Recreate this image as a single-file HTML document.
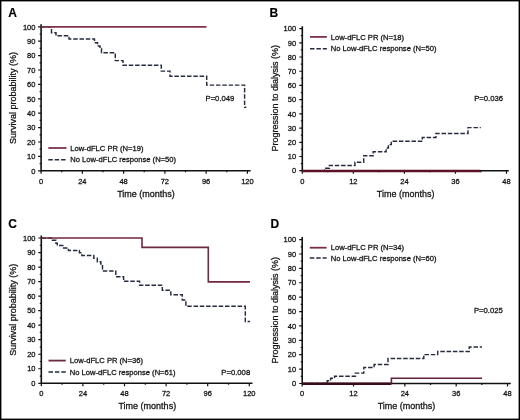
<!DOCTYPE html>
<html><head><meta charset="utf-8"><style>
html,body{margin:0;padding:0;background:#fff;}
body{width:520px;height:420px;overflow:hidden;}
svg{display:block;will-change:transform;font-family:"Liberation Sans",sans-serif;}
text{stroke:#141414;stroke-width:0.28px;}
</style></head><body>
<svg width="520" height="420" viewBox="0 0 520 420">
<rect x="0" y="0" width="520" height="420" fill="#fff"/>
<text x="8.2" y="16.8" font-size="12" font-weight="bold" fill="#000" style="stroke:#000;stroke-width:0.15px">A</text>
<path d="M41.1 24.3V170.8H250.7" stroke="#111" stroke-width="1.6" fill="none"/>
<path d="M38.1 170.8H41.1M38.1 156.4H41.1M38.1 142H41.1M38.1 127.6H41.1M38.1 113.2H41.1M38.1 98.8H41.1M38.1 84.4H41.1M38.1 70H41.1M38.1 55.6H41.1M38.1 41.2H41.1M38.1 26.8H41.1M39.6 163.6H41.1M39.6 149.2H41.1M39.6 134.8H41.1M39.6 120.4H41.1M39.6 106H41.1M39.6 91.6H41.1M39.6 77.2H41.1M39.6 62.8H41.1M39.6 48.4H41.1M39.6 34H41.1M41.1 170.8V173.8M82.36 170.8V173.8M123.62 170.8V173.8M164.88 170.8V173.8M206.14 170.8V173.8M247.4 170.8V173.8M61.73 170.8V172.3M102.99 170.8V172.3M144.25 170.8V172.3M185.51 170.8V172.3M226.77 170.8V172.3" stroke="#111" stroke-width="1.2" fill="none"/>
<text x="35.4" y="173.5" font-size="7.5" text-anchor="end" fill="#141414">0</text>
<text x="35.4" y="159.1" font-size="7.5" text-anchor="end" fill="#141414">10</text>
<text x="35.4" y="144.7" font-size="7.5" text-anchor="end" fill="#141414">20</text>
<text x="35.4" y="130.3" font-size="7.5" text-anchor="end" fill="#141414">30</text>
<text x="35.4" y="115.9" font-size="7.5" text-anchor="end" fill="#141414">40</text>
<text x="35.4" y="101.5" font-size="7.5" text-anchor="end" fill="#141414">50</text>
<text x="35.4" y="87.1" font-size="7.5" text-anchor="end" fill="#141414">60</text>
<text x="35.4" y="72.7" font-size="7.5" text-anchor="end" fill="#141414">70</text>
<text x="35.4" y="58.3" font-size="7.5" text-anchor="end" fill="#141414">80</text>
<text x="35.4" y="43.9" font-size="7.5" text-anchor="end" fill="#141414">90</text>
<text x="35.4" y="29.5" font-size="7.5" text-anchor="end" fill="#141414">100</text>
<text x="41.1" y="183.6" font-size="7.5" text-anchor="middle" fill="#141414">0</text>
<text x="82.36" y="183.6" font-size="7.5" text-anchor="middle" fill="#141414">24</text>
<text x="123.62" y="183.6" font-size="7.5" text-anchor="middle" fill="#141414">48</text>
<text x="164.88" y="183.6" font-size="7.5" text-anchor="middle" fill="#141414">72</text>
<text x="206.14" y="183.6" font-size="7.5" text-anchor="middle" fill="#141414">96</text>
<text x="247.4" y="183.6" font-size="7.5" text-anchor="middle" fill="#141414">120</text>
<text x="146" y="196.6" font-size="9" text-anchor="middle" fill="#141414">Time (months)</text>
<text transform="translate(16.3 98) rotate(-90)" font-size="9" text-anchor="middle" fill="#141414">Survival probability (%)</text>
<path d="M48.3 148H66.5" stroke="#80304a" stroke-width="1.8"/>
<path d="M48.3 159.8H66.5" stroke="#262c40" stroke-width="1.45" stroke-dasharray="4.5 1.9"/>
<text x="70.3" y="150.6" font-size="7.6" fill="#141414">Low-dFLC PR (N=19)</text>
<text x="70.3" y="162.4" font-size="7.6" fill="#141414">No Low-dFLC response (N=50)</text>
<text x="205.5" y="100.7" font-size="7.7" fill="#141414">P=0.049</text>
<path d="M41.1 26.9H51.5V32.7H56V35.8H69V38.9H94.5V42.7H97.5V46H100V48.5H101.5V52.8H115.3V60.6H123V65.2H161.3V71.1H170V76.3H206.7V85.1H244.6V107.3H246.3" stroke="#262c40" stroke-width="1.45" fill="none" stroke-dasharray="4.5 1.8"/>
<path d="M41.1 26.9H206.5" stroke="#80304a" stroke-width="1.6" fill="none"/>
<text x="269.4" y="16.9" font-size="12" font-weight="bold" fill="#000" style="stroke:#000;stroke-width:0.15px">B</text>
<path d="M302.3 26.3V170.7H508.8" stroke="#111" stroke-width="1.6" fill="none"/>
<path d="M299.3 170.7H302.3M299.3 156.49H302.3M299.3 142.28H302.3M299.3 128.07H302.3M299.3 113.86H302.3M299.3 99.65H302.3M299.3 85.44H302.3M299.3 71.23H302.3M299.3 57.02H302.3M299.3 42.81H302.3M299.3 28.6H302.3M300.8 163.59H302.3M300.8 149.38H302.3M300.8 135.17H302.3M300.8 120.96H302.3M300.8 106.75H302.3M300.8 92.54H302.3M300.8 78.33H302.3M300.8 64.12H302.3M300.8 49.91H302.3M300.8 35.7H302.3M302.3 170.7V173.7M353.35 170.7V173.7M404.4 170.7V173.7M455.45 170.7V173.7M506.5 170.7V173.7M327.82 170.7V172.2M378.88 170.7V172.2M429.93 170.7V172.2M480.98 170.7V172.2" stroke="#111" stroke-width="1.2" fill="none"/>
<text x="296.1" y="173.4" font-size="7.5" text-anchor="end" fill="#141414">0</text>
<text x="296.1" y="159.19" font-size="7.5" text-anchor="end" fill="#141414">10</text>
<text x="296.1" y="144.98" font-size="7.5" text-anchor="end" fill="#141414">20</text>
<text x="296.1" y="130.77" font-size="7.5" text-anchor="end" fill="#141414">30</text>
<text x="296.1" y="116.56" font-size="7.5" text-anchor="end" fill="#141414">40</text>
<text x="296.1" y="102.35" font-size="7.5" text-anchor="end" fill="#141414">50</text>
<text x="296.1" y="88.14" font-size="7.5" text-anchor="end" fill="#141414">60</text>
<text x="296.1" y="73.93" font-size="7.5" text-anchor="end" fill="#141414">70</text>
<text x="296.1" y="59.72" font-size="7.5" text-anchor="end" fill="#141414">80</text>
<text x="296.1" y="45.51" font-size="7.5" text-anchor="end" fill="#141414">90</text>
<text x="296.1" y="31.3" font-size="7.5" text-anchor="end" fill="#141414">100</text>
<text x="302.3" y="183.5" font-size="7.5" text-anchor="middle" fill="#141414">0</text>
<text x="353.35" y="183.5" font-size="7.5" text-anchor="middle" fill="#141414">12</text>
<text x="404.4" y="183.5" font-size="7.5" text-anchor="middle" fill="#141414">24</text>
<text x="455.45" y="183.5" font-size="7.5" text-anchor="middle" fill="#141414">36</text>
<text x="506.5" y="183.5" font-size="7.5" text-anchor="middle" fill="#141414">48</text>
<text x="405.6" y="196.8" font-size="9" text-anchor="middle" fill="#141414">Time (months)</text>
<text transform="translate(277.7 98.2) rotate(-90)" font-size="9" text-anchor="middle" fill="#141414">Progression to dialysis (%)</text>
<path d="M310 36.9H326.9" stroke="#80304a" stroke-width="1.8"/>
<path d="M310 48.7H326.9" stroke="#262c40" stroke-width="1.45" stroke-dasharray="4.5 1.9"/>
<text x="330.7" y="39.5" font-size="7.6" fill="#141414">Low-dFLC PR (N=18)</text>
<text x="330.7" y="51.3" font-size="7.6" fill="#141414">No Low-dFLC response (N=50)</text>
<text x="474.2" y="100.9" font-size="7.7" fill="#141414">P=0.036</text>
<path d="M302.3 170.7H324.6V168.3H329.4V165.4H354.9V162.2H363.7V155.7H373.2V151.8H386.1V148H388.4V144.6H391.3V141.3H422.3V137.5H435.9V133.5H468V127.6H480.8" stroke="#262c40" stroke-width="1.45" fill="none" stroke-dasharray="4.5 1.8"/>
<path d="M302.3 170.9H480.6" stroke="#5c1226" stroke-width="2.5" fill="none"/>
<text x="8.2" y="227.6" font-size="12" font-weight="bold" fill="#000" style="stroke:#000;stroke-width:0.15px">C</text>
<path d="M41.3 235.5V383.3H252.5" stroke="#111" stroke-width="1.6" fill="none"/>
<path d="M38.3 383.3H41.3M38.3 368.77H41.3M38.3 354.24H41.3M38.3 339.71H41.3M38.3 325.18H41.3M38.3 310.65H41.3M38.3 296.12H41.3M38.3 281.59H41.3M38.3 267.06H41.3M38.3 252.53H41.3M38.3 238H41.3M39.8 376.04H41.3M39.8 361.5H41.3M39.8 346.98H41.3M39.8 332.44H41.3M39.8 317.92H41.3M39.8 303.38H41.3M39.8 288.86H41.3M39.8 274.33H41.3M39.8 259.79H41.3M39.8 245.26H41.3M41.3 383.3V386.3M82.9 383.3V386.3M124.5 383.3V386.3M166.1 383.3V386.3M207.7 383.3V386.3M249.3 383.3V386.3M62.1 383.3V384.8M103.7 383.3V384.8M145.3 383.3V384.8M186.9 383.3V384.8M228.5 383.3V384.8" stroke="#111" stroke-width="1.2" fill="none"/>
<text x="35.5" y="386" font-size="7.5" text-anchor="end" fill="#141414">0</text>
<text x="35.5" y="371.47" font-size="7.5" text-anchor="end" fill="#141414">10</text>
<text x="35.5" y="356.94" font-size="7.5" text-anchor="end" fill="#141414">20</text>
<text x="35.5" y="342.41" font-size="7.5" text-anchor="end" fill="#141414">30</text>
<text x="35.5" y="327.88" font-size="7.5" text-anchor="end" fill="#141414">40</text>
<text x="35.5" y="313.35" font-size="7.5" text-anchor="end" fill="#141414">50</text>
<text x="35.5" y="298.82" font-size="7.5" text-anchor="end" fill="#141414">60</text>
<text x="35.5" y="284.29" font-size="7.5" text-anchor="end" fill="#141414">70</text>
<text x="35.5" y="269.76" font-size="7.5" text-anchor="end" fill="#141414">80</text>
<text x="35.5" y="255.23" font-size="7.5" text-anchor="end" fill="#141414">90</text>
<text x="35.5" y="240.7" font-size="7.5" text-anchor="end" fill="#141414">100</text>
<text x="41.3" y="396.1" font-size="7.5" text-anchor="middle" fill="#141414">0</text>
<text x="82.9" y="396.1" font-size="7.5" text-anchor="middle" fill="#141414">24</text>
<text x="124.5" y="396.1" font-size="7.5" text-anchor="middle" fill="#141414">48</text>
<text x="166.1" y="396.1" font-size="7.5" text-anchor="middle" fill="#141414">72</text>
<text x="207.7" y="396.1" font-size="7.5" text-anchor="middle" fill="#141414">96</text>
<text x="249.3" y="396.1" font-size="7.5" text-anchor="middle" fill="#141414">120</text>
<text x="147.3" y="408.8" font-size="9" text-anchor="middle" fill="#141414">Time (months)</text>
<text transform="translate(16.3 309.8) rotate(-90)" font-size="9" text-anchor="middle" fill="#141414">Survival probability (%)</text>
<path d="M48.5 360.6H65.8" stroke="#70283f" stroke-width="1.8"/>
<path d="M48.5 372H65.8" stroke="#262c40" stroke-width="1.45" stroke-dasharray="4.5 1.9"/>
<text x="69.8" y="363.2" font-size="7.6" fill="#141414">Low-dFLC PR (N=36)</text>
<text x="69.8" y="374.6" font-size="7.6" fill="#141414">No Low-dFLC response (N=61)</text>
<text x="221.3" y="374.8" font-size="7.7" fill="#141414">P=0.008</text>
<path d="M41.3 238H51.5V240.2H55.9V243.3H57.3V245.5H63.6V247.9H68.4V250.5H79.4V252.7H81.8V255.5H93.8V258.3H97.3V261.7H100.8V264H102.5V271H115.8V276.7H123.6V281.3H139.6V285.3H162.3V290.3H170.8V294.8H182.3V300H185.9V306.3H245.3V321.5H250" stroke="#262c40" stroke-width="1.45" fill="none" stroke-dasharray="4.5 1.8"/>
<path d="M41.3 238H142V247.4H208.3V281.9H250" stroke="#70283f" stroke-width="1.6" fill="none"/>
<text x="270.5" y="227.8" font-size="12" font-weight="bold" fill="#000" style="stroke:#000;stroke-width:0.15px">D</text>
<path d="M302.2 237.1V383.5H510.8" stroke="#111" stroke-width="1.6" fill="none"/>
<path d="M299.2 383.5H302.2M299.2 369.11H302.2M299.2 354.72H302.2M299.2 340.33H302.2M299.2 325.94H302.2M299.2 311.55H302.2M299.2 297.16H302.2M299.2 282.77H302.2M299.2 268.38H302.2M299.2 253.99H302.2M299.2 239.6H302.2M300.7 376.31H302.2M300.7 361.92H302.2M300.7 347.52H302.2M300.7 333.13H302.2M300.7 318.75H302.2M300.7 304.36H302.2M300.7 289.97H302.2M300.7 275.57H302.2M300.7 261.19H302.2M300.7 246.79H302.2M302.2 383.5V386.5M353.52 383.5V386.5M404.85 383.5V386.5M456.17 383.5V386.5M507.5 383.5V386.5M327.86 383.5V385M379.19 383.5V385M430.51 383.5V385M481.84 383.5V385" stroke="#111" stroke-width="1.2" fill="none"/>
<text x="296.1" y="386.2" font-size="7.5" text-anchor="end" fill="#141414">0</text>
<text x="296.1" y="371.81" font-size="7.5" text-anchor="end" fill="#141414">10</text>
<text x="296.1" y="357.42" font-size="7.5" text-anchor="end" fill="#141414">20</text>
<text x="296.1" y="343.03" font-size="7.5" text-anchor="end" fill="#141414">30</text>
<text x="296.1" y="328.64" font-size="7.5" text-anchor="end" fill="#141414">40</text>
<text x="296.1" y="314.25" font-size="7.5" text-anchor="end" fill="#141414">50</text>
<text x="296.1" y="299.86" font-size="7.5" text-anchor="end" fill="#141414">60</text>
<text x="296.1" y="285.47" font-size="7.5" text-anchor="end" fill="#141414">70</text>
<text x="296.1" y="271.08" font-size="7.5" text-anchor="end" fill="#141414">80</text>
<text x="296.1" y="256.69" font-size="7.5" text-anchor="end" fill="#141414">90</text>
<text x="296.1" y="242.3" font-size="7.5" text-anchor="end" fill="#141414">100</text>
<text x="302.2" y="396.2" font-size="7.5" text-anchor="middle" fill="#141414">0</text>
<text x="353.52" y="396.2" font-size="7.5" text-anchor="middle" fill="#141414">12</text>
<text x="404.85" y="396.2" font-size="7.5" text-anchor="middle" fill="#141414">24</text>
<text x="456.17" y="396.2" font-size="7.5" text-anchor="middle" fill="#141414">36</text>
<text x="507.5" y="396.2" font-size="7.5" text-anchor="middle" fill="#141414">48</text>
<text x="406.5" y="408.8" font-size="9" text-anchor="middle" fill="#141414">Time (months)</text>
<text transform="translate(277.8 310.2) rotate(-90)" font-size="9" text-anchor="middle" fill="#141414">Progression to dialysis (%)</text>
<path d="M309.8 247.7H326.6" stroke="#7a2c46" stroke-width="1.8"/>
<path d="M309.8 257.9H326.6" stroke="#262c40" stroke-width="1.45" stroke-dasharray="4.5 1.9"/>
<text x="330.7" y="250.3" font-size="7.6" fill="#141414">Low-dFLC PR (N=34)</text>
<text x="330.7" y="260.5" font-size="7.6" fill="#141414">No Low-dFLC response (N=60)</text>
<text x="473.9" y="312.8" font-size="7.7" fill="#141414">P=0.025</text>
<path d="M302.2 383.5H327.2V380.8H330.6V378.3H334.6V376.2H355.4V373.1H363.8V367.5H374.1V364.5H388V358.5H423.8V354.6H437.7V351.5H469.2V346.9H482" stroke="#262c40" stroke-width="1.45" fill="none" stroke-dasharray="4.5 1.8"/>
<path d="M302.2 383.7H391.4" stroke="#3a0a18" stroke-width="2.5" fill="none"/>
<path d="M391.4 383.5H391.4V378.2H482" stroke="#62223a" stroke-width="1.6" fill="none"/>
<rect x="0.7" y="0.7" width="518.6" height="418.6" fill="none" stroke="#000" stroke-width="1.4"/>
</svg>
</body></html>
